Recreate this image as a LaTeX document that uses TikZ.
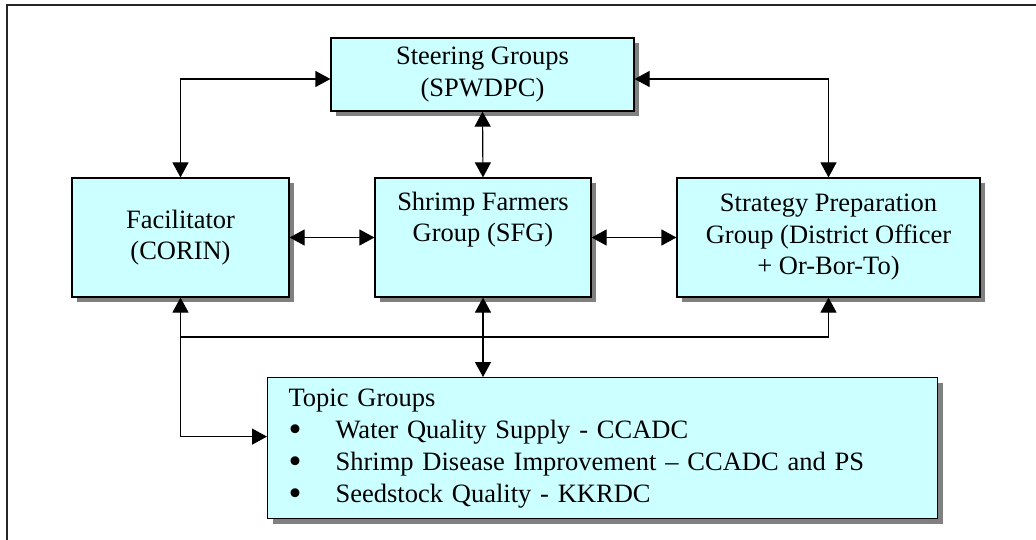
\documentclass[tikz,border=0pt]{standalone}
\usepackage{fontspec}
\setmainfont{Liberation Serif}
\usetikzlibrary{arrows.meta,shadows,calc}
\definecolor{boxfill}{HTML}{CCFFFF}
\definecolor{shadowgray}{HTML}{808080}
\newcommand{\bigbul}{\makebox[47pt][l]{\smash{\raisebox{-0.12em}{\scalebox{1.4}{\textbullet}}}}}
\tikzset{
  box/.style={draw=black, line width=1.2pt, fill=boxfill, rectangle, inner sep=0pt,
    align=center, font=\fontsize{26.5}{31.5}\selectfont,
    drop shadow={shadow xshift=5pt, shadow yshift=-5pt, fill=shadowgray, opacity=1}},
  tip/.tip={Triangle[length=15pt,width=16pt]},
  conn/.style={line width=1.2pt, tip-tip},
  onearrow/.style={line width=1.2pt, -tip},
  plainline/.style={line width=1.2pt},
  frame/.style={line width=1.5pt, draw=black!85},
}
\begin{document}
\begin{tikzpicture}[x=1pt,y=-1pt]
\useasboundingbox (0,0) rectangle (1036,540);
\draw[frame] (7,540) -- (7,5) -- (1036,5);

\node[box, minimum width=303pt, minimum height=73pt] (steer) at (482.5,74.5) {Steering Groups\\(SPWDPC)};
\node[box, minimum width=217pt, minimum height=119pt] (fac) at (180.5,237.5) {Facilitator\\(CORIN)};
\node[box, minimum width=216pt, minimum height=119pt] (sfg) at (483,237.5) {Shrimp Farmers\\Group (SFG)\\\strut};
\node[box, minimum width=303pt, minimum height=119pt] (strat) at (828.5,237.5) {Strategy Preparation\\Group (District Officer\\+ Or-Bor-To)};
\node[box, anchor=north west, text width=628pt, inner xsep=21pt, minimum height=141pt, align=left,
      font=\fontsize{26.5}{32}\selectfont] (topic) at (267,377)
  {Topic Groups\\
   \bigbul Water Quality Supply - CCADC\\
   \bigbul Shrimp Disease Improvement – CCADC and PS\\
   \bigbul Seedstock Quality - KKRDC};

\draw[conn] (fac.north) |- ([yshift=-4.5pt]steer.west);
\draw[conn] ([yshift=-4.5pt]steer.east) -| (strat.north);
\draw[conn] (steer.south) -- (sfg.north);
\draw[conn] (fac.east) -- (sfg.west);
\draw[conn] (sfg.east) -- (strat.west);

\coordinate (busL) at (fac.south |- 0,337);
\coordinate (busR) at (strat.south |- 0,337);
\draw[plainline] (busL) -- (busR);
\draw[onearrow] (busL) -- (fac.south);
\draw[onearrow] (busR) -- (strat.south);
\draw[conn] (sfg.south) -- (sfg.south |- topic.north);
\draw[onearrow] (busL) |- ([yshift=11.5pt]topic.west);
\end{tikzpicture}
\end{document}
